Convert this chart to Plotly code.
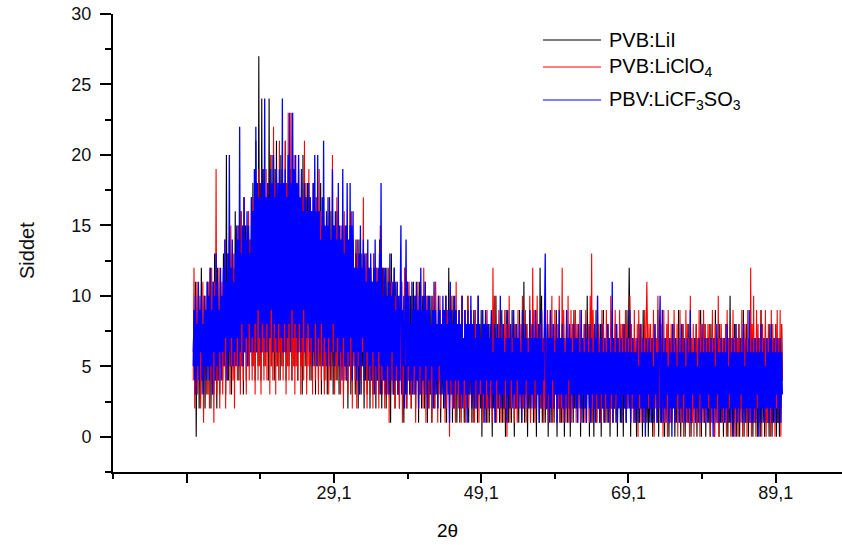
import plotly.graph_objects as go

# 2-theta sampling: start and step (degrees)
theta_start = 10.0
theta_step = 0.1

# Intensity (counts), 10.0 .. 90.0 deg, step 0.1 (one line = 2 deg)
pvb_lii = [
    6, 9, 3, 11, 0, 8, 5, 10, 2, 9, 6, 12, 3, 8, 4, 10, 2, 9, 5, 11,
    3, 10, 5, 12, 2, 9, 6, 11, 3, 13, 4, 10, 2, 12, 5, 9, 3, 11, 6, 10,
    4, 13, 6, 11, 3, 20, 5, 12, 4, 14, 6, 11, 3, 13, 5, 12, 4, 16, 6, 11,
    5, 15, 4, 13, 7, 16, 5, 14, 3, 17, 6, 15, 4, 13, 7, 16, 5, 14, 6, 17,
    5, 18, 7, 16, 4, 21, 6, 17, 5, 27, 7, 18, 4, 24, 6, 19, 5, 17, 8, 17,
    6, 18, 4, 24, 7, 17, 5, 20, 6, 16, 4, 19, 7, 21, 5, 17, 6, 18, 4, 20,
    6, 19, 5, 17, 7, 21, 4, 18, 6, 20, 5, 16, 7, 19, 4, 17, 6, 18, 5, 16,
    6, 17, 4, 19, 7, 16, 5, 18, 3, 20, 6, 15, 5, 17, 4, 18, 7, 16, 5, 14,
    4, 16, 6, 18, 5, 15, 3, 17, 6, 14, 4, 16, 5, 18, 3, 15, 6, 17, 4, 14,
    5, 15, 3, 17, 6, 14, 4, 16, 5, 13, 3, 15, 6, 12, 4, 16, 5, 14, 3, 13,
    4, 14, 6, 13, 3, 15, 5, 12, 4, 14, 2, 13, 5, 15, 3, 12, 4, 14, 6, 11,
    3, 13, 5, 12, 2, 14, 4, 11, 3, 13, 5, 12, 2, 10, 4, 13, 3, 12, 5, 11,
    2, 12, 4, 11, 3, 13, 5, 10, 2, 12, 4, 11, 3, 14, 5, 10, 2, 12, 4, 11,
    3, 11, 2, 12, 4, 10, 3, 11, 1, 13, 4, 10, 3, 12, 2, 11, 4, 10, 3, 9,
    2, 10, 4, 11, 3, 9, 1, 12, 3, 10, 2, 11, 4, 9, 3, 10, 2, 8, 4, 11,
    3, 9, 2, 10, 4, 8, 1, 11, 3, 9, 2, 10, 4, 8, 2, 11, 3, 9, 1, 10,
    2, 9, 3, 10, 1, 8, 4, 9, 2, 11, 3, 8, 2, 10, 4, 9, 1, 8, 3, 9,
    2, 8, 3, 10, 1, 9, 4, 12, 2, 8, 3, 9, 1, 10, 2, 8, 4, 9, 1, 8,
    3, 9, 1, 8, 2, 10, 4, 7, 1, 9, 3, 8, 2, 10, 1, 8, 3, 9, 2, 7,
    1, 8, 3, 9, 2, 7, 1, 10, 3, 8, 2, 9, 0, 8, 3, 7, 2, 9, 1, 8,
    2, 7, 1, 8, 3, 9, 0, 7, 2, 8, 1, 10, 3, 7, 2, 8, 1, 6, 3, 9,
    1, 8, 2, 7, 0, 9, 3, 6, 1, 8, 2, 7, 1, 9, 3, 7, 0, 8, 2, 7,
    2, 7, 1, 9, 3, 6, 1, 8, 2, 11, 1, 7, 3, 8, 0, 7, 2, 9, 1, 7,
    3, 8, 1, 7, 2, 9, 0, 6, 3, 8, 1, 12, 2, 10, 1, 7, 3, 8, 1, 6,
    2, 8, 0, 7, 3, 9, 1, 6, 2, 8, 1, 7, 3, 9, 0, 7, 2, 8, 1, 7,
    1, 7, 3, 8, 0, 6, 2, 9, 1, 7, 2, 8, 0, 7, 3, 6, 1, 9, 2, 7,
    2, 6, 1, 8, 3, 7, 0, 9, 2, 6, 1, 8, 2, 7, 1, 10, 3, 6, 0, 7,
    1, 8, 2, 7, 0, 6, 3, 9, 1, 7, 2, 6, 1, 8, 0, 7, 3, 9, 1, 6,
    2, 7, 1, 8, 3, 6, 0, 7, 2, 9, 1, 6, 2, 8, 1, 7, 0, 6, 3, 8,
    1, 7, 2, 6, 0, 8, 3, 7, 1, 9, 2, 6, 12, 7, 0, 8, 2, 6, 1, 7,
    2, 6, 0, 7, 3, 8, 1, 6, 2, 7, 0, 9, 1, 6, 2, 7, 1, 8, 0, 6,
    1, 7, 2, 6, 0, 8, 1, 7, 3, 6, 1, 9, 0, 7, 2, 6, 1, 8, 2, 7,
    0, 6, 2, 7, 1, 8, 0, 6, 2, 7, 1, 6, 3, 8, 0, 7, 1, 6, 2, 9,
    1, 7, 0, 6, 2, 8, 1, 7, 0, 6, 3, 7, 1, 8, 2, 6, 0, 7, 1, 6,
    2, 7, 1, 8, 0, 6, 2, 7, 1, 9, 0, 6, 2, 7, 1, 8, 0, 6, 2, 7,
    1, 6, 0, 8, 2, 7, 1, 6, 0, 9, 2, 7, 1, 6, 0, 8, 1, 7, 2, 6,
    0, 7, 1, 8, 2, 6, 0, 7, 1, 10, 2, 6, 0, 7, 1, 8, 2, 6, 0, 7,
    1, 8, 0, 6, 2, 7, 1, 9, 0, 6, 2, 8, 1, 7, 0, 6, 1, 8, 2, 7,
    0, 7, 1, 6, 2, 8, 0, 7, 1, 6, 0, 9, 2, 7, 1, 6, 0, 8, 1, 7,
    1, 6, 0, 8, 2, 7, 0, 6, 1, 7, 2, 8, 0, 6, 1, 7, 0, 6, 2, 8,
    4,
]

pvb_liclo4 = [
    4, 12, 2, 9, 5, 11, 3, 8, 6, 10, 2, 9, 4, 11, 1, 8, 5, 10, 3, 9,
    5, 11, 2, 10, 4, 12, 3, 9, 1, 11, 5, 19, 3, 10, 4, 12, 2, 9, 5, 11,
    3, 12, 5, 14, 2, 11, 4, 13, 6, 12, 3, 15, 5, 11, 4, 13, 2, 12, 5, 14,
    4, 15, 6, 13, 3, 16, 5, 14, 4, 17, 6, 13, 3, 15, 5, 16, 4, 14, 6, 13,
    4, 17, 5, 15, 3, 18, 6, 16, 4, 19, 5, 17, 3, 15, 6, 18, 4, 16, 5, 19,
    4, 18, 6, 16, 3, 20, 5, 17, 4, 22, 6, 18, 3, 19, 5, 17, 4, 21, 6, 18,
    5, 19, 4, 17, 6, 21, 3, 18, 5, 23, 4, 19, 6, 23, 4, 18, 5, 20, 3, 17,
    5, 18, 4, 20, 6, 16, 3, 19, 5, 17, 4, 21, 6, 18, 3, 16, 5, 19, 4, 17,
    5, 16, 3, 18, 6, 15, 4, 17, 5, 14, 3, 19, 6, 16, 4, 15, 5, 17, 3, 14,
    4, 16, 6, 15, 3, 17, 5, 14, 4, 20, 6, 13, 3, 15, 5, 17, 4, 14, 6, 13,
    3, 15, 5, 14, 2, 16, 4, 13, 6, 15, 3, 12, 5, 14, 4, 16, 2, 13, 5, 12,
    4, 13, 2, 14, 5, 12, 3, 13, 4, 11, 6, 17, 3, 12, 5, 13, 2, 11, 4, 12,
    3, 12, 5, 11, 2, 13, 4, 10, 3, 12, 5, 11, 2, 13, 15, 4, 10, 3, 12, 11,
    2, 11, 4, 10, 3, 12, 1, 10, 4, 11, 3, 9, 5, 12, 2, 10, 4, 11, 3, 9,
    2, 10, 4, 11, 1, 9, 3, 12, 5, 10, 2, 9, 4, 11, 3, 8, 2, 10, 4, 9,
    3, 10, 1, 9, 4, 11, 2, 8, 3, 10, 4, 9, 2, 12, 3, 8, 1, 10, 4, 9,
    2, 9, 4, 8, 1, 10, 3, 9, 2, 11, 4, 8, 1, 9, 3, 10, 2, 8, 4, 9,
    3, 8, 1, 10, 2, 9, 4, 8, 0, 9, 3, 10, 2, 8, 4, 9, 1, 11, 3, 8,
    2, 9, 4, 8, 1, 10, 3, 7, 2, 9, 1, 8, 3, 10, 2, 7, 4, 9, 1, 8,
    3, 7, 1, 9, 2, 8, 4, 10, 1, 8, 3, 7, 2, 9, 1, 8, 4, 7, 2, 9,
    1, 8, 3, 7, 2, 9, 1, 12, 4, 10, 2, 7, 1, 8, 3, 9, 2, 7, 1, 8,
    3, 7, 1, 9, 2, 8, 0, 7, 3, 10, 1, 8, 2, 7, 4, 9, 1, 8, 2, 7,
    1, 9, 3, 7, 2, 8, 1, 10, 2, 7, 4, 9, 1, 8, 2, 7, 3, 10, 1, 8,
    2, 12, 4, 9, 1, 8, 2, 10, 3, 7, 1, 8, 2, 9, 4, 7, 1, 8, 2, 7,
    3, 9, 1, 8, 2, 7, 4, 10, 1, 8, 2, 9, 3, 7, 1, 8, 2, 10, 1, 7,
    2, 12, 1, 9, 3, 7, 1, 8, 2, 10, 1, 7, 3, 9, 1, 8, 2, 7, 4, 9,
    1, 8, 3, 7, 2, 9, 1, 8, 2, 7, 3, 8, 1, 9, 2, 7, 4, 8, 1, 10,
    2, 13, 1, 9, 3, 8, 2, 7, 1, 10, 2, 8, 3, 7, 1, 9, 2, 8, 3, 7,
    1, 9, 2, 8, 3, 7, 1, 10, 2, 8, 1, 7, 3, 9, 2, 8, 1, 7, 4, 9,
    2, 8, 1, 8, 3, 7, 2, 9, 1, 8, 2, 7, 3, 10, 1, 8, 2, 7, 1, 9,
    1, 7, 2, 8, 0, 9, 2, 7, 1, 8, 3, 7, 1, 9, 2, 8, 11, 7, 2, 8,
    2, 8, 1, 7, 3, 9, 0, 8, 2, 7, 1, 10, 2, 7, 1, 8, 3, 7, 0, 9,
    1, 7, 2, 8, 0, 9, 2, 7, 1, 8, 2, 7, 3, 9, 1, 7, 2, 8, 0, 7,
    2, 9, 1, 7, 3, 8, 0, 7, 2, 9, 1, 8, 2, 7, 0, 10, 2, 7, 1, 8,
    0, 7, 2, 8, 1, 7, 3, 9, 0, 8, 2, 7, 1, 9, 2, 8, 1, 7, 3, 8,
    2, 8, 0, 7, 1, 9, 2, 7, 0, 8, 3, 7, 1, 10, 0, 7, 2, 8, 1, 7,
    1, 7, 3, 8, 0, 9, 1, 7, 2, 8, 0, 7, 3, 9, 1, 7, 0, 8, 2, 7,
    0, 8, 2, 7, 1, 9, 0, 7, 3, 8, 1, 7, 0, 9, 2, 7, 1, 12, 0, 8,
    2, 10, 1, 7, 0, 9, 2, 8, 1, 7, 3, 9, 0, 8, 2, 7, 1, 9, 0, 7,
    1, 8, 2, 7, 0, 9, 1, 8, 3, 7, 0, 8, 2, 9, 1, 7, 2, 9, 0, 8,
    4,
]

pbv_licf3so3 = [
    5, 9, 4, 10, 3, 8, 5, 11, 4, 9, 6, 10, 4, 8, 3, 10, 5, 9, 4, 11,
    5, 10, 4, 12, 5, 9, 3, 11, 6, 10, 4, 13, 5, 11, 4, 9, 6, 12, 4, 10,
    6, 12, 5, 14, 7, 11, 4, 13, 6, 20, 5, 12, 7, 14, 5, 11, 6, 13, 5, 15,
    7, 14, 5, 22, 6, 13, 8, 15, 5, 17, 6, 14, 7, 16, 5, 15, 8, 13, 6, 17,
    7, 16, 6, 19, 8, 22, 6, 18, 9, 17, 7, 17, 6, 19, 8, 18, 7, 24, 6, 17,
    8, 18, 6, 17, 7, 19, 9, 18, 6, 20, 8, 17, 7, 19, 6, 18, 8, 19, 7, 18,
    7, 24, 6, 18, 8, 19, 6, 17, 7, 20, 8, 23, 6, 18, 9, 23, 7, 19, 8, 20,
    7, 18, 6, 20, 8, 17, 6, 19, 7, 16, 9, 18, 6, 17, 7, 16, 8, 18, 6, 17,
    7, 16, 5, 18, 6, 20, 8, 16, 5, 20, 7, 16, 6, 14, 8, 17, 5, 21, 7, 15,
    6, 16, 5, 15, 7, 17, 5, 14, 6, 19, 8, 15, 5, 16, 6, 14, 7, 18, 5, 15,
    6, 14, 4, 19, 7, 13, 5, 15, 4, 18, 6, 14, 5, 18, 7, 15, 4, 16, 6, 12,
    5, 14, 4, 12, 6, 13, 3, 15, 5, 12, 7, 14, 4, 13, 5, 11, 6, 14, 4, 12,
    5, 13, 4, 11, 6, 12, 3, 14, 5, 11, 4, 12, 6, 13, 3, 18, 5, 10, 4, 12,
    4, 12, 3, 10, 5, 11, 3, 13, 4, 10, 6, 11, 3, 12, 4, 9, 5, 11, 3, 10,
    4, 11, 15, 3, 9, 5, 10, 2, 12, 14, 3, 11, 5, 10, 3, 8, 4, 11, 3, 9,
    5, 10, 3, 11, 4, 9, 2, 10, 5, 12, 3, 9, 4, 10, 3, 11, 5, 9, 2, 10,
    4, 10, 3, 8, 5, 9, 2, 11, 3, 9, 4, 8, 2, 10, 5, 9, 3, 8, 4, 10,
    3, 9, 2, 10, 4, 8, 3, 9, 1, 11, 4, 9, 3, 8, 2, 10, 4, 9, 3, 8,
    4, 9, 2, 8, 3, 10, 2, 7, 4, 9, 3, 8, 1, 9, 3, 8, 4, 10, 2, 8,
    3, 9, 2, 7, 4, 8, 2, 10, 3, 8, 4, 7, 2, 9, 3, 8, 1, 9, 4, 8,
    3, 8, 2, 7, 4, 9, 2, 6, 3, 8, 1, 7, 4, 8, 2, 7, 3, 10, 2, 7,
    3, 8, 2, 6, 4, 7, 1, 9, 3, 7, 2, 8, 4, 6, 2, 9, 3, 7, 2, 8,
    4, 7, 2, 8, 3, 6, 1, 9, 3, 7, 2, 8, 4, 7, 2, 6, 3, 9, 2, 7,
    3, 8, 2, 7, 4, 9, 2, 7, 3, 8, 1, 7, 3, 9, 2, 6, 4, 8, 13, 2,
    2, 8, 3, 7, 1, 9, 2, 7, 4, 8, 2, 6, 3, 8, 1, 7, 3, 9, 2, 7,
    3, 8, 2, 7, 1, 6, 3, 9, 2, 7, 4, 8, 1, 7, 3, 6, 2, 8, 3, 7,
    2, 7, 1, 8, 3, 6, 2, 9, 1, 7, 3, 6, 2, 8, 1, 7, 3, 6, 2, 8,
    1, 7, 3, 6, 2, 8, 1, 7, 3, 10, 2, 6, 1, 7, 3, 8, 2, 6, 1, 7,
    3, 6, 2, 8, 1, 7, 2, 6, 3, 11, 1, 7, 2, 6, 3, 8, 1, 7, 2, 6,
    2, 7, 1, 6, 3, 8, 2, 6, 1, 7, 3, 6, 2, 9, 1, 6, 3, 7, 2, 6,
    1, 6, 2, 7, 1, 5, 3, 8, 2, 6, 1, 7, 2, 6, 0, 7, 2, 6, 3, 7,
    2, 6, 1, 7, 2, 5, 1, 8, 3, 6, 1, 6, 2, 7, 10, 1, 3, 9, 1, 6,
    2, 7, 1, 6, 3, 5, 1, 7, 2, 6, 0, 8, 2, 6, 1, 7, 2, 5, 3, 7,
    1, 6, 2, 8, 1, 6, 3, 7, 1, 5, 2, 7, 1, 6, 2, 9, 1, 6, 3, 6,
    2, 7, 1, 6, 2, 5, 1, 7, 3, 6, 1, 8, 2, 6, 1, 7, 2, 6, 1, 7,
    3, 6, 1, 7, 2, 6, 0, 7, 2, 5, 1, 8, 3, 6, 1, 6, 2, 7, 1, 6,
    2, 7, 1, 6, 2, 8, 1, 5, 3, 7, 1, 6, 2, 7, 0, 6, 2, 8, 1, 6,
    2, 6, 1, 7, 3, 6, 1, 8, 2, 5, 1, 7, 2, 6, 1, 9, 2, 6, 1, 7,
    1, 6, 2, 7, 1, 6, 3, 7, 0, 6, 2, 8, 1, 6, 2, 7, 1, 5, 2, 7,
    2, 6, 1, 7, 2, 8, 1, 6, 2, 7, 1, 6, 3, 7, 1, 6, 2, 7, 1, 6,
    3,
]

series_names = ["PVB:LiI", "PVB:LiClO<sub>4</sub>", "PBV:LiCF<sub>3</sub>SO<sub>3</sub>"]
series_colors = ["#000000", "#ff0000", "#0000ff"]
series_widths = [1.1, 1.1, 1.3]

x_tick_vals = [9.1, 29.1, 49.1, 69.1, 89.1]
x_tick_text = ["", "29,1", "49,1", "69,1", "89,1"]
x_minor_vals = [-0.9, 19.1, 39.1, 59.1, 79.1]
y_tick_vals = [0, 5, 10, 15, 20, 25, 30]
y_minor_vals = [-2.5, 2.5, 7.5, 12.5, 17.5, 22.5, 27.5]
x_range = [-0.9, 98.1]


def theta(n):
    return [round(theta_start + i * theta_step, 2) for i in range(n)]


fig = go.Figure()
for name, ys, col, lw in zip(series_names, [pvb_lii, pvb_liclo4, pbv_licf3so3],
                             series_colors, series_widths):
    fig.add_trace(go.Scatter(x=theta(len(ys)), y=ys, mode="lines", name=name,
                             line=dict(color=col, width=lw), showlegend=False,
                             hoverinfo="x+y"))

FONT = "Liberation Sans, Arial, sans-serif"

# legend drawn Origin-style
leg_rows_px = [40, 67, 100]
L, T, W, H = 113, 14, 729, 458
annotations = []
shapes = []
for name, col, py in zip(series_names, series_colors, leg_rows_px):
    yp = (T + H - py) / H
    shapes.append(dict(type="line", xref="paper", yref="paper",
                       x0=(543 - L) / W, x1=(601 - L) / W, y0=yp, y1=yp,
                       line=dict(color=col, width=1.2)))
    annotations.append(dict(xref="paper", yref="paper", x=(607 - L) / W, y=yp,
                            xanchor="left", yanchor="middle", showarrow=False,
                            text=name, font=dict(family=FONT, size=20, color="#000")))

annotations.append(dict(xref="paper", yref="paper", x=(447 - L) / W, y=(T + H - 530) / H,
                        xanchor="center", yanchor="middle", showarrow=False,
                        text="2θ", font=dict(family=FONT, size=19, color="#000")))
annotations.append(dict(xref="paper", yref="paper", x=(27 - L) / W, y=(T + H - 251) / H,
                        xanchor="center", yanchor="middle", showarrow=False, textangle=-90,
                        text="Siddet", font=dict(family=FONT, size=20, color="#111")))

fig.update_layout(
    width=842, height=545,
    margin=dict(l=L, r=842 - L - W, t=T, b=545 - T - H),
    paper_bgcolor="white", plot_bgcolor="white",
    showlegend=False,
    annotations=annotations, shapes=shapes,
    font=dict(family=FONT, color="#000"),
    xaxis=dict(
        range=x_range, showgrid=False, zeroline=False,
        showline=True, linecolor="#000", linewidth=2,
        tickmode="array", tickvals=x_tick_vals, ticktext=x_tick_text,
        ticks="outside", ticklen=9, tickwidth=2, tickcolor="#000",
        tickfont=dict(family=FONT, size=18, color="#111"),
        ticklabelstandoff=-6,
        minor=dict(tickmode="array", tickvals=x_minor_vals, ticks="outside",
                   ticklen=5, tickwidth=2, tickcolor="#000", showgrid=False),
    ),
    yaxis=dict(
        range=[-2.5, 30], showgrid=False, zeroline=False,
        showline=True, linecolor="#000", linewidth=2,
        tickmode="array", tickvals=y_tick_vals,
        ticks="outside", ticklen=11, tickwidth=2, tickcolor="#000",
        tickfont=dict(family=FONT, size=18, color="#111"),
        ticklabelstandoff=5,
        minor=dict(tickmode="array", tickvals=y_minor_vals, ticks="outside",
                   ticklen=6, tickwidth=2, tickcolor="#000", showgrid=False),
    ),
)

fig.write_html("out.html")
